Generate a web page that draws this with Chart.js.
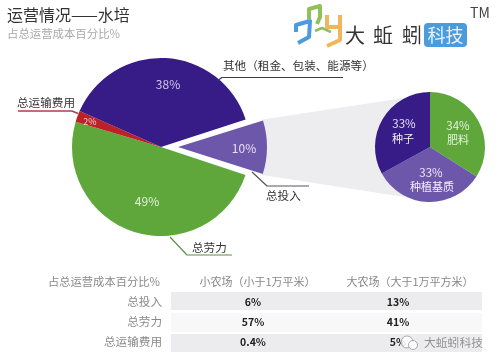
<!DOCTYPE html>
<html><head><meta charset="utf-8">
<style>html,body{margin:0;padding:0;background:#fff}#w{position:relative;width:500px;height:364px;overflow:hidden}
canvas{position:absolute;left:0;top:0}</style>
<script src="https://cdn.jsdelivr.net/npm/chart.js@4"></script></head>
<body><div id="w"><canvas id="main" width="500" height="364"></canvas><canvas id="inset" width="500" height="364"></canvas></div>
<script>
const mainLabels = ['总投入','总劳力','总运输费用','其他（租金、包装、能源等）'];
const mainValues = [10,49,2,38];
const insetLabels = ['肥料','种植基质','种子'];
const insetValues = [34,33,33];
const tableHead = ['占总运营成本百分比%','小农场（小于1万平米）','大农场（大于1万平方米）'];
const tableRows = ['总投入','总劳力','总运输费用'];
const smallFarm = ['6%','57%','0.4%'];
const largeFarm = ['13%','41%','5%'];
const GREEN='#5fa73b', DARK='#371c87', MID='#6d57ab', RED='#bb2126';
const F='"Noto Sans CJK SC","Noto Sans",sans-serif';
const PIE_R=89, GAP=17;
function t(c,s,x,y,size,color,align,weight){c.font=(weight||'400')+' '+size+'px '+F;c.fillStyle=color;c.textAlign=align||'left';c.textBaseline='middle';c.fillText(s,x,y);}
function pl(c,pts,color,w){c.beginPath();pts.forEach((p,i)=>i?c.lineTo(p[0],p[1]):c.moveTo(p[0],p[1]));c.strokeStyle=color;c.lineWidth=w||1.2;c.lineJoin='round';c.stroke();}
const band={id:'band',beforeDatasetsDraw(ch){
  const a=ch.getDatasetMeta(0).data[0],c=ch.ctx;
  // Chart.js grows an exploded arc's radius by offset*fix; cancel that growth
  const fix=1-Math.sin(Math.min(Math.PI,a.endAngle-a.startAngle));
  a.outerRadius=PIE_R-GAP*fix;
  const mid=(a.startAngle+a.endAngle)/2;
  const ox=a.x+Math.cos(mid)*GAP,oy=a.y+Math.sin(mid)*GAP;
  const x1=ox+Math.cos(a.startAngle)*PIE_R,y1=oy+Math.sin(a.startAngle)*PIE_R;
  const x2=ox+Math.cos(a.endAngle)*PIE_R,y2=oy+Math.sin(a.endAngle)*PIE_R;
  c.save();c.fillStyle='#ededf0';c.beginPath();c.moveTo(x1,y1);c.lineTo(430,94);c.lineTo(430,201);c.lineTo(x2,y2);c.closePath();c.fill();c.restore();
}};
const deco={id:'deco',afterDraw(ch){
  const c=ch.ctx;c.save();
  t(c,'运营情况——水培',7,15,16,'#333');
  t(c,'占总运营成本百分比%',7,34,11.4,'#a8a8a8');
  // callouts
  pl(c,[[217,81],[222,77.5],[343,77.5]],'#3d3570');
  t(c,mainLabels[3],223,66,11.6,'#333');
  pl(c,[[18,111],[72,111],[78,113.5]],'#a9404f',1.5);
  t(c,mainLabels[2],17,102.5,11.6,'#333');
  pl(c,[[252,172],[267,186],[309,186]],'#555560');
  t(c,mainLabels[0],266,196,11.6,'#333');
  pl(c,[[170,237],[187,255],[232,255]],'#5f8f45');
  t(c,mainLabels[1],192,248,11.6,'#333');
  // pie labels
  t(c,mainValues[3]+'%',168,84,12,'#cfc8ea','center');
  t(c,mainValues[2]+'%',90,122,9,'#f0c8c8','center');
  t(c,mainValues[1]+'%',147,201,12,'#e3f0da','center');
  t(c,mainValues[0]+'%',244,148,12,'#e4e0f2','center');
  // logo
  pl(c,[[296,32],[296,25],[310,21],[309,37],[298,43]],'#4a9cdc',4);
  pl(c,[[309,20],[309,9],[320,6],[320,17],[317,24]],'#8fc05a',4);
  pl(c,[[315,31],[322,28],[331,32]],'#8fc05a',2.5);
  pl(c,[[327,15],[327,27],[340,27]],'#f1b65a',4);
  pl(c,[[340,15],[340,40],[327,46]],'#f1b65a',4);
  t(c,'大',345,35,20,'#333');
  t(c,'蚯',373,35,20,'#333');
  t(c,'蚓',402,35,20,'#333');
  c.fillStyle='#4a9cdc';c.beginPath();c.roundRect(424,23,43,24,4);c.fill();
  t(c,'科技',445.5,35,18,'#e8f3fc','center');
  t(c,'TM',470,13,14,'#444');
  // table
  [[292,18,'#ececee'],[313,19,'#f8f8f8'],[334,18,'#ececee']].forEach(r=>{c.fillStyle=r[2];c.fillRect(171,r[0],311,r[1]);});
  t(c,tableHead[0],160,282,11.3,'#888','right');
  t(c,tableHead[1],257.5,282,11,'#888','center');
  t(c,tableHead[2],410,282,11,'#888','center');
  tableRows.forEach((r,i)=>{const y=302+i*20;
    t(c,r,162,y,11.6,'#888','right');
    t(c,smallFarm[i],253,y,10.5,'#222','center','700');
    t(c,largeFarm[i],398,y,10.5,'#222','center','700');});
  t(c,'大蚯蚓科技',483,343,11.8,'rgba(130,130,135,.85)','right');
  c.strokeStyle='rgba(150,150,150,.8)';c.lineWidth=1;c.fillStyle='rgba(255,255,255,.85)';
  c.beginPath();c.arc(407,342,6,0,7);c.fill();c.stroke();
  c.beginPath();c.arc(413,345,4.5,0,7);c.fill();c.stroke();
  c.restore();
}};
const insetText={id:'insetText',afterDraw(ch){
  const c=ch.ctx;c.save();
  t(c,insetValues[2]+'%',404,124,11.5,'#e4e0f2','center');
  t(c,insetLabels[2],403,139,11,'#f2f0f8','center');
  t(c,insetValues[0]+'%',458,126,11.5,'#e3f0da','center');
  t(c,insetLabels[0],458,140,11,'#e3f0da','center');
  t(c,insetValues[1]+'%',431,173,11.5,'#ece8f6','center');
  t(c,insetLabels[1],432,187,11,'#f2f0f8','center');
  c.restore();
}};
const common={responsive:false,animation:false,events:[],plugins:{legend:{display:false},tooltip:{enabled:false}}};
// chart area centres each pie on its position in the 500x364 page
new Chart(document.getElementById('main'),{type:'pie',plugins:[band,deco],
  data:{labels:mainLabels,datasets:[{data:mainValues,backgroundColor:[MID,GREEN,RED,DARK],borderWidth:0,offset:[GAP*4,0,0,0],radius:PIE_R}]},
  options:{...common,rotation:72,layout:{padding:{left:0,top:0,right:178,bottom:70}}}});
new Chart(document.getElementById('inset'),{type:'pie',plugins:[insetText],
  data:{labels:insetLabels,datasets:[{data:insetValues,backgroundColor:[GREEN,MID,DARK],borderWidth:0,radius:55}]},
  options:{...common,rotation:0,layout:{padding:{left:360,top:0,right:0,bottom:70}}}});
</script></body></html>
